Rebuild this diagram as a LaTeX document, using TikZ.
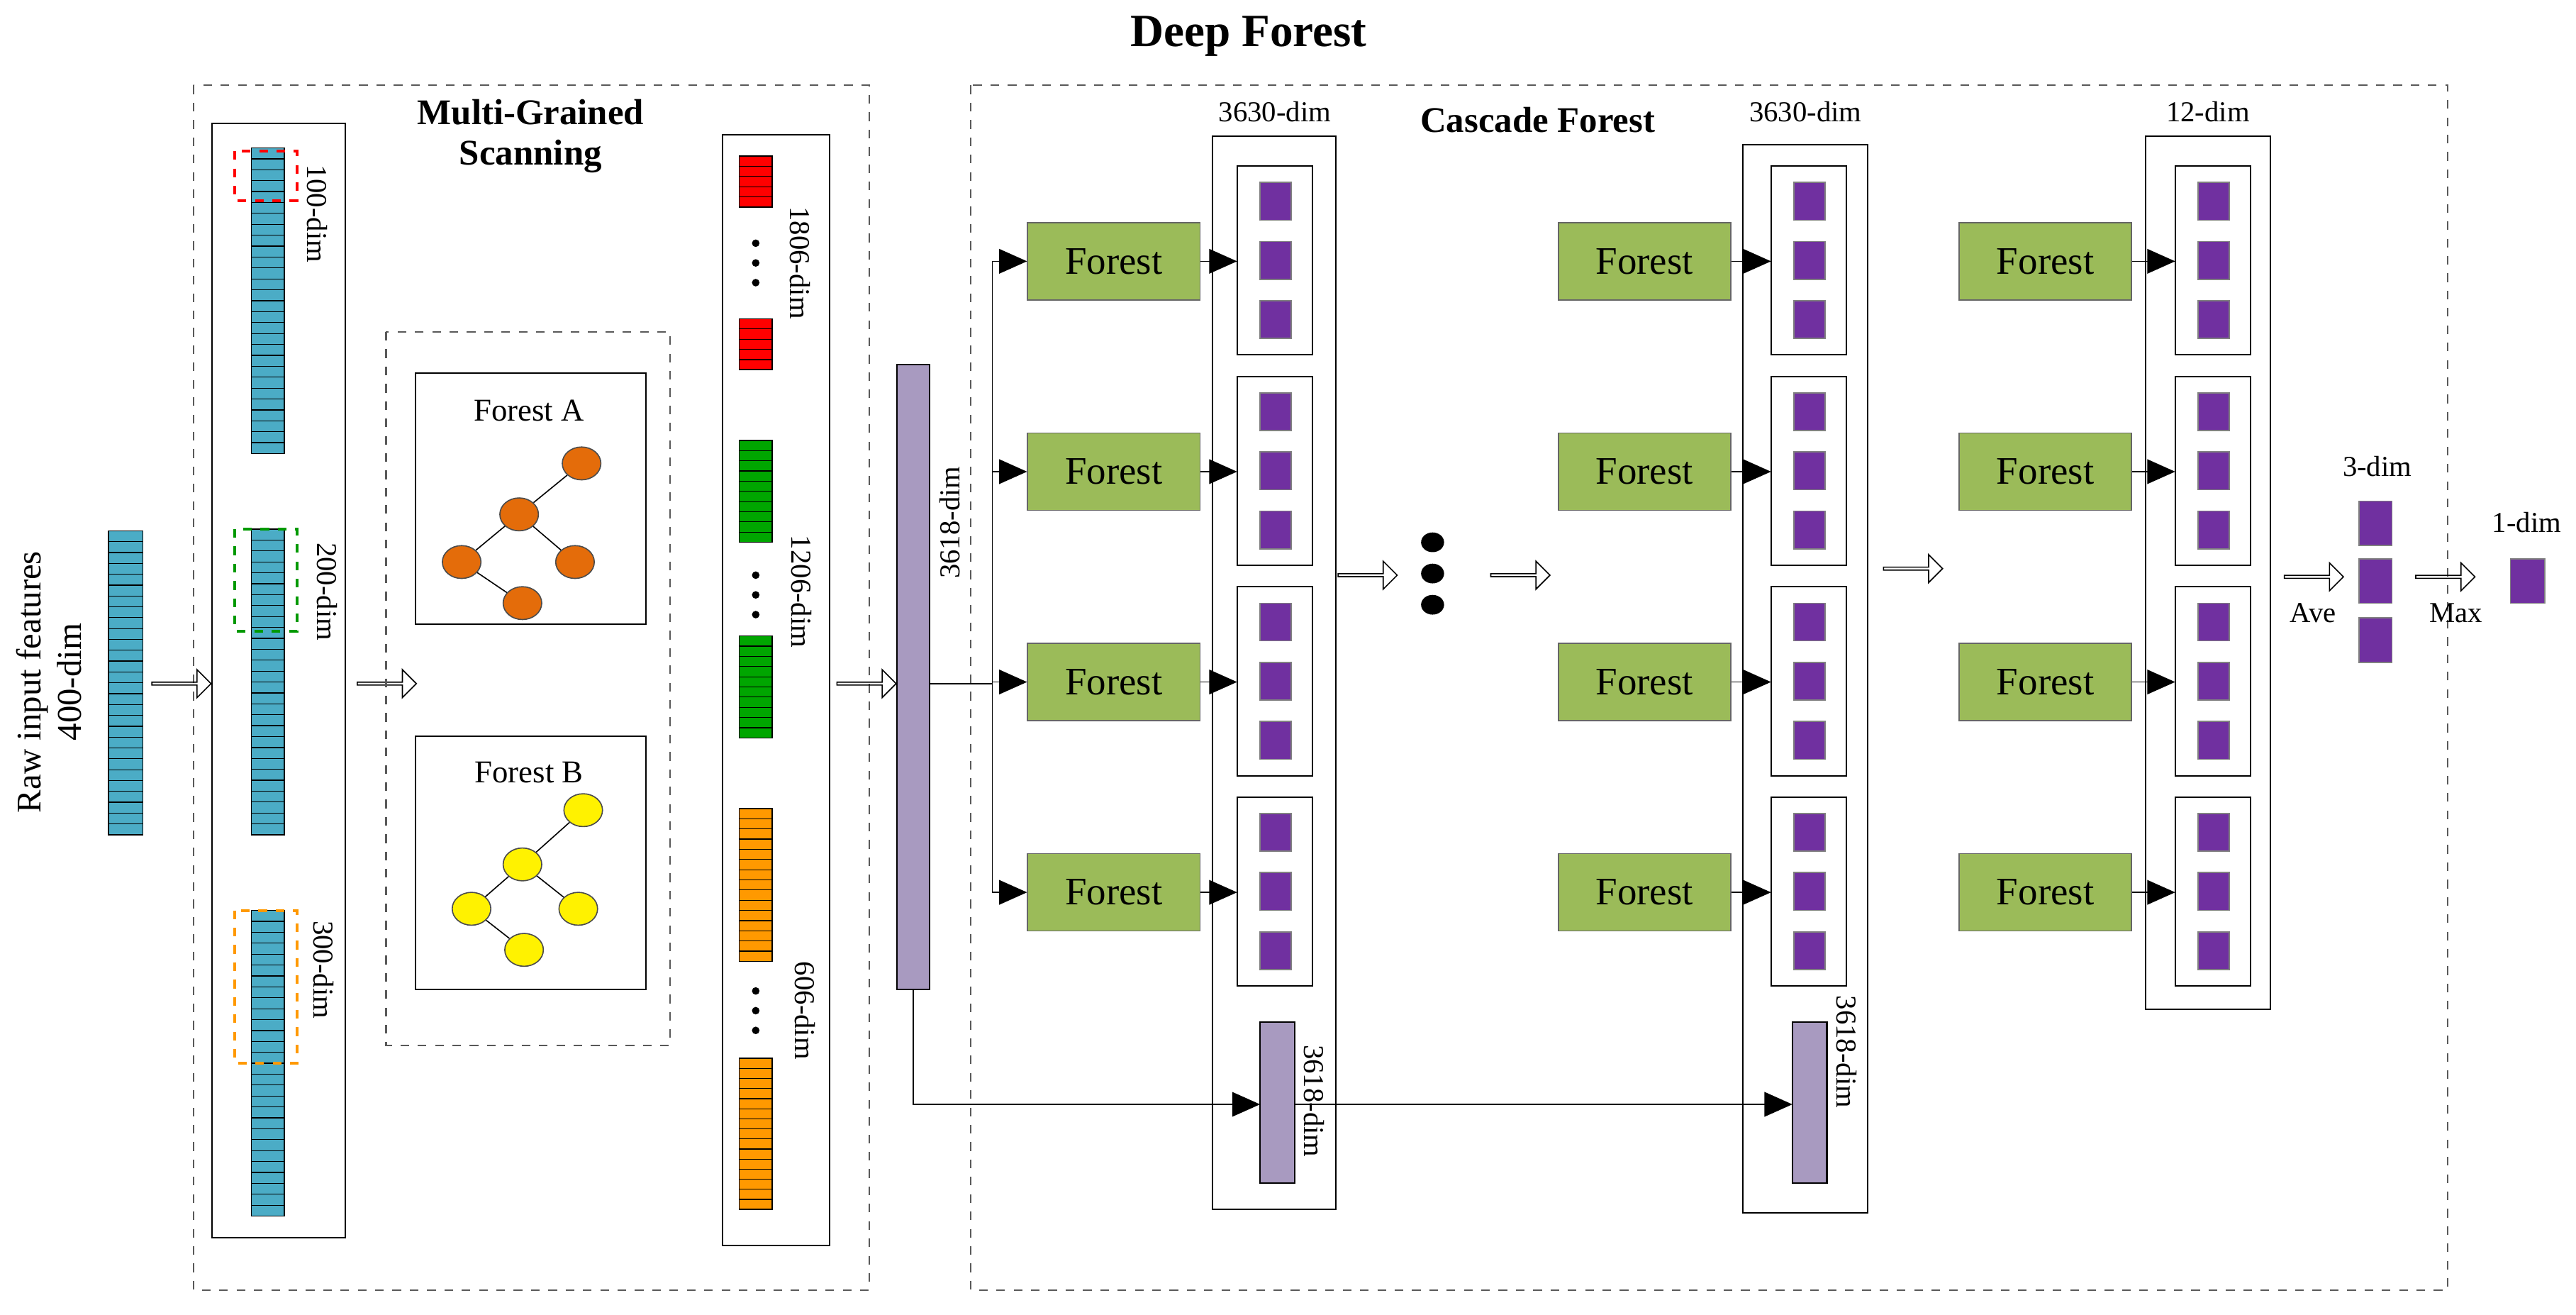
\documentclass[tikz,border=0pt]{standalone}
\usepackage{fontspec}
\setmainfont{Liberation Serif}
\usetikzlibrary{arrows.meta,shapes.arrows,shapes.geometric}

\definecolor{teal}{HTML}{4BACC6}
\definecolor{leaf}{HTML}{9BBB59}
\definecolor{plum}{HTML}{7030A0}
\definecolor{lilac}{HTML}{A89AC0}
\definecolor{treeA}{HTML}{E46C0A}
\definecolor{orng}{HTML}{FF9900}

\tikzset{
  box/.style={draw, line width=0.5pt},
  dbox/.style={draw, dashed, line width=0.5pt, gray!70!black},
  forest/.style={draw=black!60, fill=leaf, minimum width=2.1cm, minimum height=0.94cm,
    font=\fontsize{13.5}{14}\selectfont},
  hollow/.style={single arrow, draw, line width=0.4pt, minimum height=0.72cm,
    minimum width=0.34cm, single arrow head extend=0.06cm, inner sep=0pt},
  conn/.style={line width=0.4pt, -{Triangle[length=0.34cm, width=0.3cm]}},
  dimlbl/.style={font=\fontsize{10}{11}\selectfont},
  tnode/.style={draw=black!70, ellipse, minimum width=0.47cm, minimum height=0.4cm, inner sep=0pt},
  sq/.style={draw=black!50, fill=plum},
}

% striped bar: x1, y1, x2, y2, n, colour
\newcommand{\stripebar}[6]{%
  \fill[#6] (#1,#2) rectangle (#3,#4);
  \foreach \k in {1,...,#5} {
    \pgfmathsetmacro{\yy}{#2+(#4-#2)*\k/(#5+1)}
    \draw[line width=0.3pt] (#1,\yy) -- (#3,\yy);
  }
  \draw[line width=0.4pt] (#1,#2) rectangle (#3,#4);
}

\begin{document}
\begin{tikzpicture}[x=0.02cm, y=-0.02cm]

  \useasboundingbox (0,0) rectangle (1568,800);

  % Titles
  \node[font=\fontsize{16}{18}\selectfont\bfseries] (title) at (760,22) {Deep Forest};
  \node[font=\fontsize{12.5}{14}\selectfont\bfseries, align=center] (mgs) at (323,83) {Multi-Grained\\Scanning};
  \node[font=\fontsize{12.5}{14}\selectfont\bfseries] (cf) at (936,73) {Cascade Forest};

  % Outer dashed frames
  \draw[dbox] (118,52) rectangle (529,785);
  \draw[dbox] (591,52) rectangle (1490,785);

  % Raw input
  \node[rotate=90, align=center, font=\fontsize{12}{14}\selectfont] (raw) at (30,415) {Raw input features\\400-dim};
  \stripebar{66}{323}{87}{508}{27}{teal}
  \node[hollow] (a1) at (110,416) {};

  % Scanning windows
  \draw[box] (129,75) rectangle (210,753);
  \stripebar{153}{90}{173}{276}{27}{teal}
  \stripebar{153}{322}{173}{508}{27}{teal}
  \stripebar{153}{554}{173}{740}{27}{teal}
  \draw[dashed, red, line width=1pt] (143,92) rectangle (181,122);
  \draw[dashed, green!60!black, line width=1pt] (143,322) rectangle (181,384);
  \draw[dashed, orng, line width=1pt] (143,554) rectangle (181,647);
  \node[dimlbl, rotate=-90] (d100) at (193,130) {100-dim};
  \node[dimlbl, rotate=-90] (d200) at (199,360) {200-dim};
  \node[dimlbl, rotate=-90] (d300) at (197,590) {300-dim};
  \node[hollow] (a2) at (235,416) {};

  % Forests A and B
  \draw[dbox] (235,202) rectangle (408,636);
  \draw[box] (253,227) rectangle (393,380);
  \draw[box] (253,448) rectangle (393,602);
  \node[font=\fontsize{11}{12}\selectfont] (fa) at (322,250) {Forest A};
  \node[font=\fontsize{11}{12}\selectfont] (fb) at (322,470) {Forest B};
  \node[tnode, fill=treeA] (a11) at (354,282) {};
  \node[tnode, fill=treeA] (a21) at (316,313) {};
  \node[tnode, fill=treeA] (a31) at (281,342) {};
  \node[tnode, fill=treeA] (a32) at (350,342) {};
  \node[tnode, fill=treeA] (a41) at (318,367) {};
  \draw (a21) -- (a11) (a21) -- (a31) (a21) -- (a32) (a31) -- (a41);
  \node[tnode, fill=yellow] (b11) at (355,493) {};
  \node[tnode, fill=yellow] (b21) at (318,526) {};
  \node[tnode, fill=yellow] (b31) at (287,553) {};
  \node[tnode, fill=yellow] (b32) at (352,553) {};
  \node[tnode, fill=yellow] (b41) at (319,578) {};
  \draw (b21) -- (b11) (b21) -- (b31) (b21) -- (b32) (b31) -- (b41);

  % Transformed features
  \draw[box] (440,82) rectangle (505,758);
  \stripebar{450}{95}{470}{126}{4}{red}
  \stripebar{450}{194}{470}{225}{4}{red}
  \stripebar{450}{268}{470}{330}{9}{green!65!black}
  \stripebar{450}{387}{470}{449}{9}{green!65!black}
  \stripebar{450}{492}{470}{585}{14}{orng}
  \stripebar{450}{644}{470}{736}{14}{orng}
  \foreach \yy in {148,160,172, 350,362,374, 603,615,627}
    \fill (460,\yy) circle [radius=2.3];
  \node[dimlbl, rotate=-90] (d1806) at (487,160) {1806-dim};
  \node[dimlbl, rotate=-90] (d1206) at (488,360) {1206-dim};
  \node[dimlbl, rotate=-90] (d606) at (490,615) {606-dim};
  \node[hollow] (a3) at (527,416) {};

  % Concatenated vector
  \draw[box, fill=lilac] (546,222) rectangle (566,602);
  \coordinate (cat) at (566,416);
  \coordinate (catb) at (556,602);
  \node[dimlbl, rotate=90] (d3618) at (578,318) {3618-dim};

  % Cascade levels
  \foreach \lvl/\fx/\ox/\ix/\lab in {1/678/738/753/3630-dim, 2/1001/1061/1078/3630-dim, 3/1245/1306/1324/12-dim} {
    \node (lab\lvl) at (\ox+38,68) {\fontsize{10}{11}\selectfont\lab};
    \foreach \r/\yc in {1/159, 2/287, 3/415, 4/543} {
      \node[forest] (f\lvl\r) at (\fx,\yc) {Forest};
      \draw[box] (\ix,\yc-58) rectangle (\ix+46,\yc+57);
      \coordinate (in\lvl\r) at (\ix,\yc);
      \foreach \s in {-36,0,36}
        \draw[sq] (\ix+14,\yc+\s-12) rectangle (\ix+33,\yc+\s+11);
      \draw[conn] (f\lvl\r.east) -- (in\lvl\r);
    }
  }
  \draw[box] (738,83) rectangle (813,736);
  \draw[box] (1061,88) rectangle (1137,738);
  \draw[box] (1306,83) rectangle (1382,614);

  % feed from concatenated vector
  \coordinate (split) at (604,416);
  \draw[line width=0.4pt] (cat) -- (split);
  \draw[line width=0.4pt] (604,159) -- (604,543);
  \foreach \r/\yc in {1/159, 2/287, 3/415, 4/543}
    \draw[conn] (604,\yc) -- (f1\r.west);

  % carried input vectors
  \draw[box, fill=lilac] (767,622) rectangle (788,720);
  \draw[box, fill=lilac] (1091,622) rectangle (1112,720);
  \node[dimlbl, rotate=-90] (c1) at (800,670) {3618-dim};
  \node[dimlbl, rotate=-90] (c2) at (1124,640) {3618-dim};
  \coordinate (v1) at (767,672);
  \coordinate (v2) at (1091,672);
  \draw[conn] (catb) -- (556,672) -- (v1);
  \draw[conn] (788,672) -- (v2);

  % between levels
  \node[hollow] (a4) at (832,350) {};
  \foreach \yy in {330,349,368}
    \fill (872,\yy) ellipse [x radius=7, y radius=6];
  \node[hollow] (a5) at (925,350) {};
  \node[hollow] (a6) at (1164,346) {};

  % Output
  \node[hollow] (a7) at (1408,351) {};
  \node (ave) at (1408,373) {\fontsize{10}{11}\selectfont Ave};
  \draw[sq] (1436,305) rectangle (1456,332);
  \draw[sq] (1436,340) rectangle (1456,367);
  \draw[sq] (1436,376) rectangle (1456,403);
  \node (d3) at (1447,284) {\fontsize{10}{11}\selectfont 3-dim};
  \node[hollow] (a8) at (1488,351) {};
  \node (max) at (1495,373) {\fontsize{10}{11}\selectfont Max};
  \draw[sq] (1528,340) rectangle (1549,367);
  \node (d1) at (1538,318) {\fontsize{10}{11}\selectfont 1-dim};

\end{tikzpicture}
\end{document}
